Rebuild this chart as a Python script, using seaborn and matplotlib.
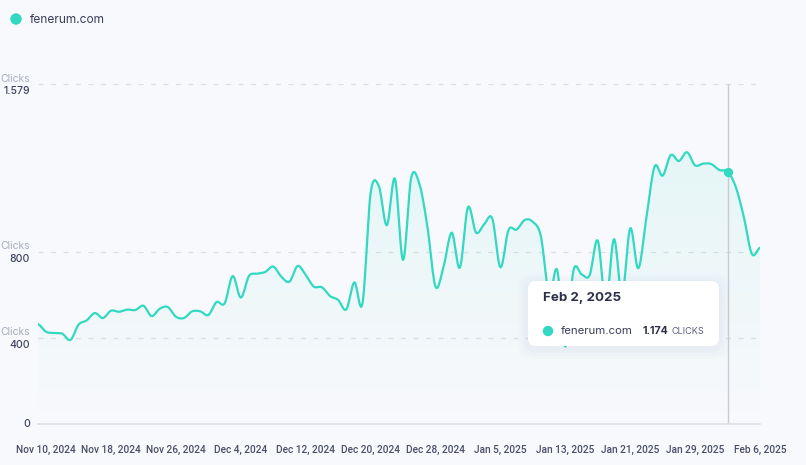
import numpy as np
import pandas as pd
import matplotlib
matplotlib.use("Agg")
import matplotlib.pyplot as plt
import matplotlib.dates as mdates
import matplotlib.transforms as mtransforms
from matplotlib.patches import FancyBboxPatch, Circle
import seaborn as sns

# daily clicks, fenerum.com, Nov 9 2024 -> Feb 6 2025
start_date = "2024-11-09"
clicks = [465, 429, 423, 420, 391, 462, 482, 516, 493, 527,
          522, 532, 530, 550, 502, 536, 544, 499, 493, 524,
          524, 507, 567, 561, 688, 588, 688, 699, 707, 732,
          685, 662, 735, 693, 639, 636, 595, 577, 533, 659,
          561, 1073, 1108, 924, 1141, 763, 1144, 1119, 918, 639,
          732, 890, 727, 1008, 890, 929, 955, 729, 902, 904,
          949, 940, 871, 600, 716, 360, 713, 696, 692, 853,
          560, 860, 600, 910, 724, 960, 1197, 1155, 1251, 1223,
          1264, 1203, 1211, 1209, 1181, 1174, 1104, 964, 791, 820]
y_ticks = [400, 800, 1579]
y_tick_labels = ["400", "800", "1.579"]
series_name = "fenerum.com"
hover_date = "2025-02-02"
hover_label = "Feb 2, 2025"
hover_value = "1.174"

TEAL = "#32D9C2"
GRID = "#DDDFE7"
BG = "#F8F9FC"
DARK = "#2C2F48"
MUTED = "#A8ACBF"


def catmull_rom(vals, steps=12):
    v = np.asarray(vals, dtype=float)
    p = np.concatenate([[v[0]], v, [v[-1]]])
    xs, ys = [], []
    for i in range(len(v) - 1):
        p0, p1, p2, p3 = p[i], p[i + 1], p[i + 2], p[i + 3]
        t = np.linspace(0, 1, steps, endpoint=False)
        y = 0.5 * (2 * p1 + (-p0 + p2) * t + (2 * p0 - 5 * p1 + 4 * p2 - p3) * t ** 2
                   + (-p0 + 3 * p1 - 3 * p2 + p3) * t ** 3)
        xs.append(i + t)
        ys.append(y)
    xs.append([len(v) - 1])
    ys.append([v[-1]])
    return np.concatenate(xs), np.concatenate(ys)


sns.set_theme(style="white")
plt.rcParams["font.family"] = ["Inter", "DejaVu Sans"]

start = pd.Timestamp(start_date)
days = pd.date_range(start, periods=len(clicks), freq="D")
t, smooth = catmull_rom(clicks)
df = pd.DataFrame({"date": start + pd.to_timedelta(t, unit="D"), "clicks": smooth})

W, H = 806, 465
fig = plt.figure(figsize=(W / 100, H / 100), dpi=100, facecolor=BG)
ax = fig.add_axes([38 / W, 41 / H, (760 - 38) / W, (424 - 84.5) / H])
ax.set_facecolor(BG)

# gradient fill under the curve, strongest at the top
poly = ax.fill_between(df["date"], df["clicks"], 0, color=TEAL, alpha=0, linewidth=0)
x0, x1 = mdates.date2num(days[0]), mdates.date2num(days[-1])
grad = np.zeros((100, 2, 4))
grad[..., :3] = matplotlib.colors.to_rgb(TEAL)
grad[..., 3] = np.linspace(0.10, 0.0, 100)[:, None]
img = ax.imshow(grad, extent=[x0, x1, 0, 1300], aspect="auto", origin="upper", zorder=1)
img.set_clip_path(poly.get_paths()[0], transform=ax.transData)

sns.lineplot(data=df, x="date", y="clicks", color=TEAL, linewidth=1.6, ax=ax, zorder=3)

ax.set_xlim(days[0], days[-1])
ax.set_ylim(0, 1579)

for yv in y_ticks:
    ax.axhline(yv, color=GRID, linewidth=0.9, dashes=(4, 6), zorder=0, clip_on=False)

# hover crosshair and marker
hd = pd.Timestamp(hover_date)
hv = clicks[(hd - start).days]
ax.axvline(hd, color="#C9CBD3", linewidth=1, zorder=2)
ax.scatter([hd], [hv], s=45, color=TEAL, zorder=4, linewidths=0)

for s in ["top", "right", "left"]:
    ax.spines[s].set_visible(False)
ax.spines["bottom"].set_color(GRID)
ax.spines["bottom"].set_linewidth(1.2)

ticks = pd.date_range("2024-11-10", "2025-02-06", freq="8D")
ax.set_xticks(ticks)
ax.set_xticklabels([f"{d:%b} {d.day}, {d.year}" for d in ticks])
ax.tick_params(axis="x", length=6, width=1, color=GRID, pad=9,
               labelsize=7.3, labelcolor="#4A4E66")
for lab in ax.get_xticklabels():
    lab.set_fontfamily(["Roboto", "DejaVu Sans"])
    lab.set_fontweight("medium")
ax.set_yticks([])
ax.set_xlabel("")
ax.set_ylabel("")

# y labels: "Clicks" above value
tr = mtransforms.blended_transform_factory(fig.transFigure, ax.transData)
off = mtransforms.ScaledTranslation(0, 6 / 100, fig.dpi_scale_trans)
off2 = mtransforms.ScaledTranslation(0, -7 / 100, fig.dpi_scale_trans)
for yv, lab in zip(y_ticks, y_tick_labels):
    fig.text(30 / W, yv, "Clicks", transform=tr + off, ha="right", va="center",
             fontsize=7.5, color=MUTED)
    fig.text(30 / W, yv, lab, transform=tr + off2, ha="right", va="center",
             fontsize=7.5, color="#3D4160", fontweight="medium")
fig.text(30 / W, 0, "0", transform=tr, ha="right", va="center",
         fontsize=7.5, color="#3D4160", fontweight="medium")

# legend at top left
px = mtransforms.IdentityTransform()
fig.add_artist(Circle((16, H - 19), 5, transform=px, color=TEAL))
fig.text(30, H - 20, series_name, transform=px, ha="left", va="center",
         fontsize=8.6, color="#3A3E58")

# tooltip
for i, a in enumerate([0.025, 0.025, 0.03]):
    g = 10 - i * 3
    fig.add_artist(FancyBboxPatch((528 - g, H - 346 - g - 3), 191 + 2 * g, 65 + 2 * g,
                                  boxstyle="round,pad=0,rounding_size=14", transform=px,
                                  facecolor="#7C86B8", alpha=a, linewidth=0))
fig.add_artist(FancyBboxPatch((528, H - 346), 191, 65,
                              boxstyle="round,pad=0,rounding_size=8", transform=px,
                              facecolor="white", edgecolor="none"))
fig.text(543, H - 298, hover_label, transform=px, ha="left", va="center",
         fontsize=9.6, fontweight="bold", color=DARK)
fig.add_artist(Circle((548, H - 331), 4.5, transform=px, color=TEAL))
fig.text(561, H - 331, series_name, transform=px, ha="left", va="center",
         fontsize=8.2, color="#3A3E58")
fig.text(643, H - 331, hover_value, transform=px, ha="left", va="center",
         fontsize=7.6, fontweight="bold", color=DARK)
fig.text(671, H - 331, "CLICKS", transform=px, ha="left", va="center",
         fontsize=6.6, color="#5A5F78")

fig.savefig("out.png", dpi=100, facecolor=BG)
